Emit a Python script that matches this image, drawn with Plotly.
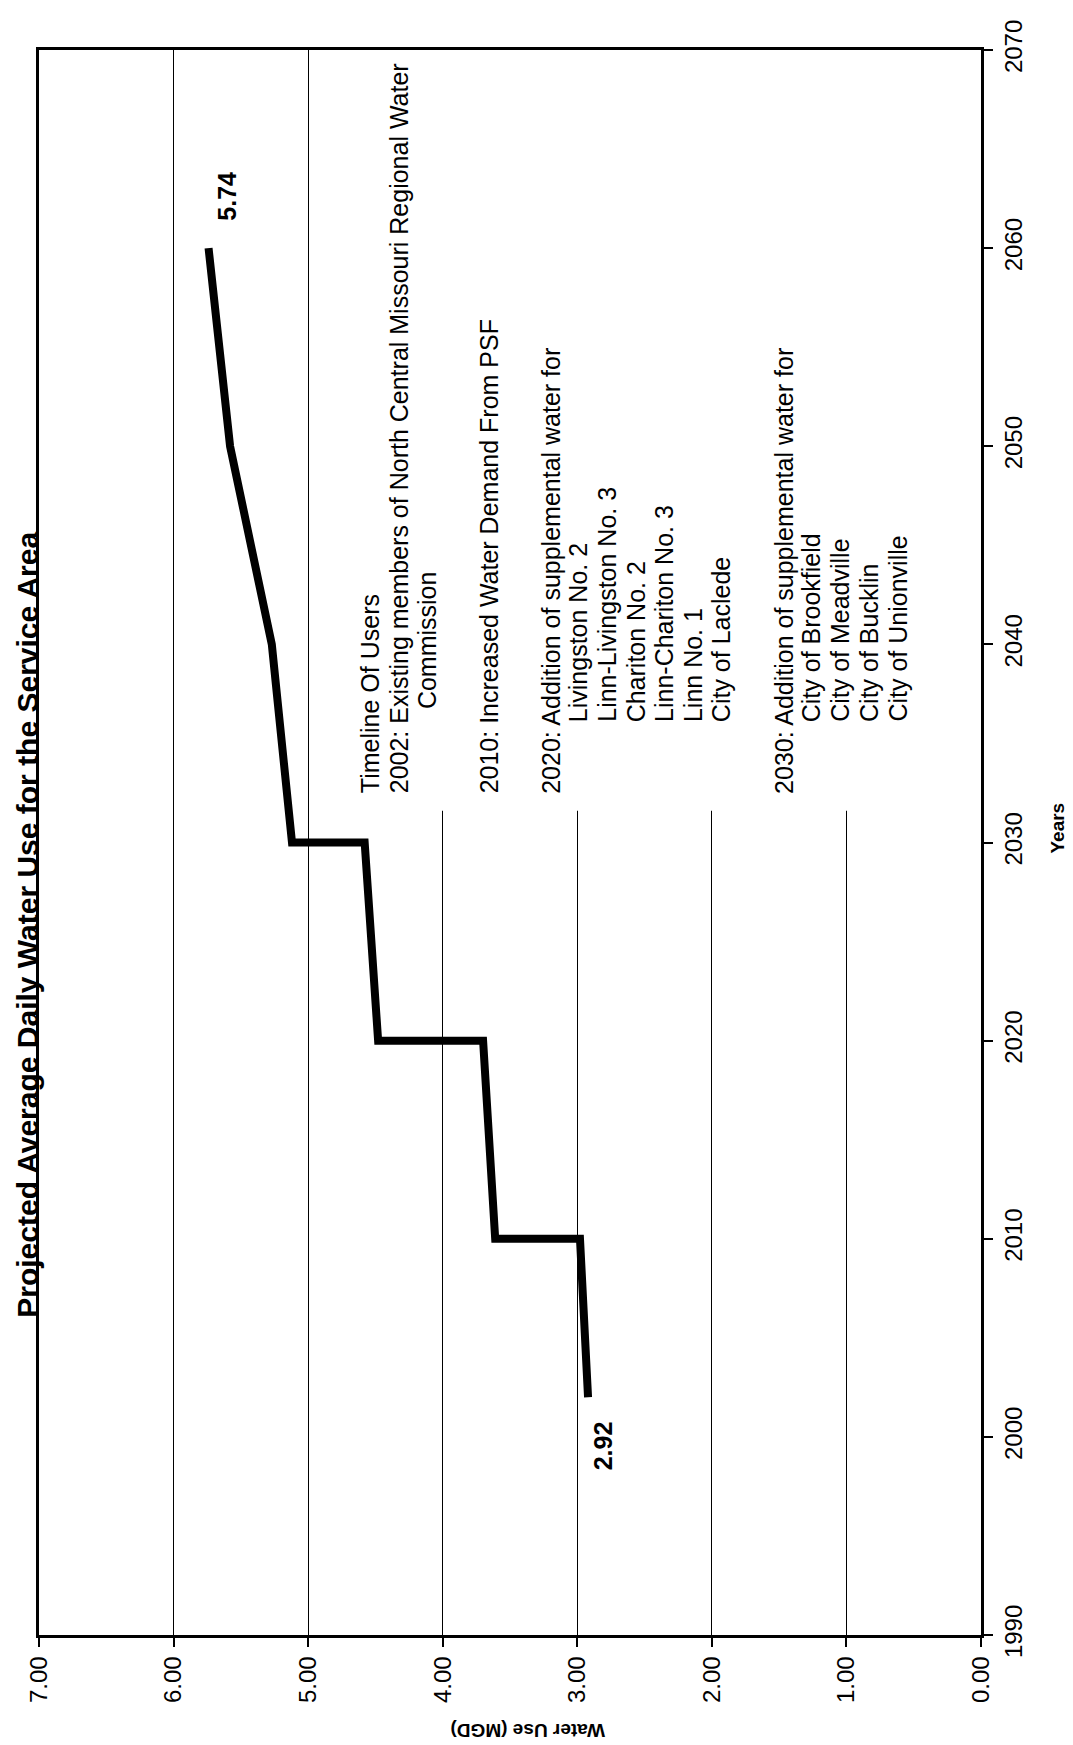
import plotly.graph_objects as go

# Projected average daily water use (MGD) by year
years = [2002, 2010, 2010, 2020, 2020, 2030, 2030, 2040, 2050, 2060]
mgd = [2.92, 2.98, 3.61, 3.70, 4.48, 4.58, 5.12, 5.27, 5.58, 5.74]

use_ticks = [0, 1, 2, 3, 4, 5, 6, 7]
year_ticks = [1990, 2000, 2010, 2020, 2030, 2040, 2050, 2060, 2070]

title = "Projected Average Daily Water Use for the Service Area"

# timeline text box (text, indent level); "" = blank line
timeline = [
    ("Timeline Of Users", 0),
    ("2002: Existing members of North Central Missouri Regional Water", 0),
    ("Commission", 2),
    ("", 0),
    ("2010: Increased Water Demand From PSF", 0),
    ("", 0),
    ("2020: Addition of supplemental water for", 0),
    ("Livingston No. 2", 1),
    ("Linn-Livingston No. 3", 1),
    ("Chariton No. 2", 1),
    ("Linn-Chariton No. 3", 1),
    ("Linn No. 1", 1),
    ("City of Laclede", 1),
    ("", 0),
    ("2030: Addition of supplemental water for", 0),
    ("City of Brookfield", 1),
    ("City of Meadville", 1),
    ("City of Bucklin", 1),
    ("City of Unionville", 1),
]

FONT = "Liberation Sans, Arial, sans-serif"
W, H = 1073, 1745
L, R, T, B = 31, 100, 37, 118
pw, ph = W - L - R, H - T - B


def px(x):
    return (x - L) / pw


def py(y):
    return (H - B - y) / ph


fig = go.Figure()
fig.add_trace(go.Scatter(x=mgd, y=years, mode="lines",
                         line=dict(color="black", width=8), hoverinfo="skip"))

# white text box hiding the gridlines behind the timeline
fig.add_shape(type="rect", xref="x", yref="y", x0=4.64, x1=0.39, y0=2031.6, y1=2070,
              fillcolor="white", line=dict(width=0), layer="between")

ann = []
cur = 362
indent_px = {0: 0, 1: 72, 2: 85}
for text, lvl in timeline:
    if text == "":
        cur += 28.6 * 1.15
        continue
    ann.append(dict(text=text, x=px(cur), y=py(785 - indent_px[lvl]), xref="paper", yref="paper",
                    xanchor="center", yanchor="bottom", textangle=-90, showarrow=False,
                    font=dict(family=FONT, size=25, color="black")))
    cur += 28.6

ann.append(dict(text=f"<b>{mgd[-1]:.2f}</b>", x=mgd[-1], y=years[-1], xref="x", yref="y",
                xshift=19, yshift=52, textangle=-90, showarrow=False,
                font=dict(family=FONT, size=25, color="black")))
ann.append(dict(text=f"<b>{mgd[0]:.2f}</b>", x=mgd[0], y=years[0], xref="x", yref="y",
                xshift=15, yshift=-49, textangle=-90, showarrow=False,
                font=dict(family=FONT, size=25, color="black")))

ann.append(dict(text=f"<b>{title}</b>", x=px(1), y=py(915), xref="paper", yref="paper",
                xanchor="left", yanchor="middle", textangle=-90, showarrow=False,
                font=dict(family=FONT, size=30, color="black")))
ann.append(dict(text="<b>Water Use (MGD)</b>", x=px(520), y=py(1723), xref="paper", yref="paper",
                xanchor="center", yanchor="middle", textangle=180, showarrow=False,
                font=dict(family=FONT, size=19, color="black")))
ann.append(dict(text="<b>Years</b>", x=px(1050), y=py(818), xref="paper", yref="paper",
                xanchor="center", yanchor="middle", textangle=-90, showarrow=False,
                font=dict(family=FONT, size=19, color="black")))

fig.update_layout(
    width=W, height=H,
    margin=dict(l=L, r=R, t=T, b=B),
    paper_bgcolor="white", plot_bgcolor="white",
    showlegend=False,
    font=dict(family=FONT, size=24, color="black"),
    annotations=ann,
    xaxis=dict(range=[7, 0], tickvals=use_ticks, tickformat=".2f", tickangle=-90,
               ticks="outside", ticklen=9, tickcolor="black", tickwidth=1.5,
               showgrid=True, gridcolor="black", gridwidth=1,
               showline=True, linecolor="black", linewidth=2.5, mirror=True,
               zeroline=False, tickfont=dict(size=24)),
    yaxis=dict(range=[1990, 2070], tickvals=year_ticks, side="right", tickangle=-90,
               ticks="outside", ticklen=9, tickcolor="black", tickwidth=1.5,
               showgrid=False, showline=True, linecolor="black", linewidth=2.5, mirror=True,
               zeroline=False, tickfont=dict(size=24)),
)

fig.write_html("out.html")
